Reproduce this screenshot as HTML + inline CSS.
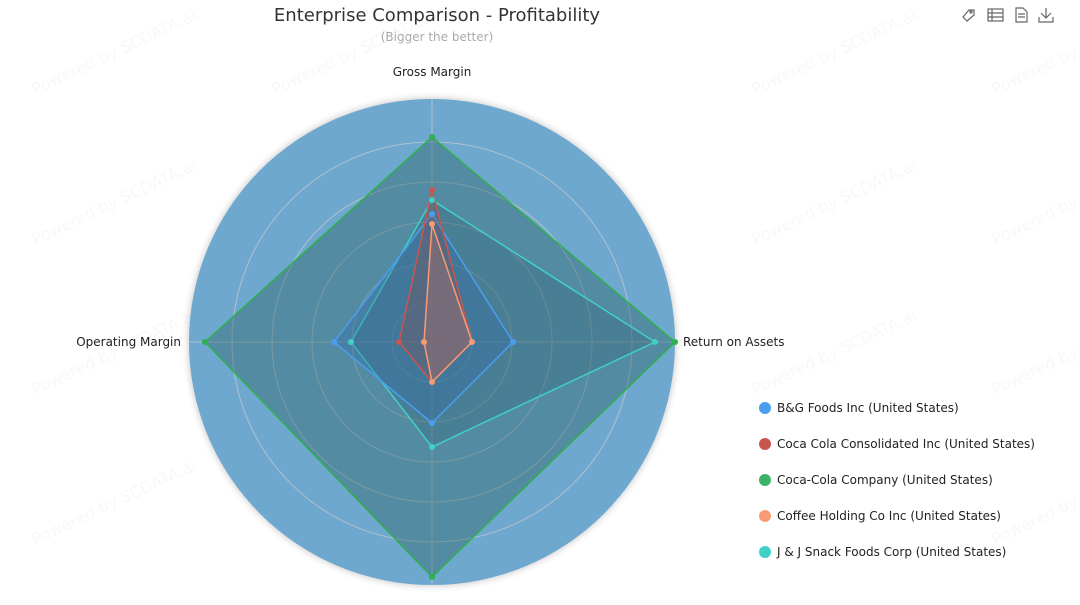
<!DOCTYPE html>
<html><head><meta charset="utf-8"><style>
body{margin:0;width:1080px;height:600px;background:#fff;font-family:"Liberation Sans","DejaVu Sans",sans-serif;overflow:hidden}
</style></head><body>
<svg width="1080" height="600" xmlns="http://www.w3.org/2000/svg" font-family="DejaVu Sans, Liberation Sans, sans-serif">
<defs><filter id="sh" x="-10%" y="-10%" width="120%" height="120%"><feGaussianBlur stdDeviation="4"/></filter></defs>
<g fill="#e6e6e6" opacity="0.3" font-size="16">
<text transform="translate(35,95) rotate(-25)">Powered by SCDATA.ai</text>
<text transform="translate(275,95) rotate(-25)">Powered by SCDATA.ai</text>
<text transform="translate(755,95) rotate(-25)">Powered by SCDATA.ai</text>
<text transform="translate(995,95) rotate(-25)">Powered by SCDATA.ai</text>
<text transform="translate(35,245) rotate(-25)">Powered by SCDATA.ai</text>
<text transform="translate(755,245) rotate(-25)">Powered by SCDATA.ai</text>
<text transform="translate(995,245) rotate(-25)">Powered by SCDATA.ai</text>
<text transform="translate(35,395) rotate(-25)">Powered by SCDATA.ai</text>
<text transform="translate(755,395) rotate(-25)">Powered by SCDATA.ai</text>
<text transform="translate(995,395) rotate(-25)">Powered by SCDATA.ai</text>
<text transform="translate(35,545) rotate(-25)">Powered by SCDATA.ai</text>
<text transform="translate(995,545) rotate(-25)">Powered by SCDATA.ai</text>
</g>
<text x="437" y="21" text-anchor="middle" font-size="18" fill="#333">Enterprise Comparison - Profitability</text>
<text x="437" y="41" text-anchor="middle" font-size="12" fill="#aaa">(Bigger the better)</text>
<g stroke="#666" fill="none" stroke-width="1.2">
<path d="M963 17l6-7h5v5l-7 6z"/><circle cx="971" cy="12" r="1"/>
<rect x="988" y="9" width="15" height="12"/><path d="M988 13h15M988 17h15M992 9v12"/>
<path d="M1016 8h7l4 4v10h-11z M1018 14h7M1018 17h7"/>
<path d="M1046 8v10M1041 13l5 5 5-5M1039 17v5h14v-5"/>
</g>
<circle cx="432" cy="342" r="243" fill="#000" opacity="0.25" filter="url(#sh)"/>
<circle cx="432" cy="342" r="243" fill="#6fa8cf"/>
<g stroke="#ccc" stroke-opacity="0.7" fill="none">
<circle cx="432" cy="342" r="40"/><circle cx="432" cy="342" r="80"/><circle cx="432" cy="342" r="120"/><circle cx="432" cy="342" r="160"/><circle cx="432" cy="342" r="200"/>
<path d="M432 99V585M189 342H675"/>
</g>
<g stroke-width="1.5">
<polygon points="432,137 675,342 432,577 205,342" fill="#2a5f60" fill-opacity="0.4" stroke="#2fb04f"/>
<polygon points="432,200 655,342 432,447 351,342" fill="#2a5a6a" fill-opacity="0.25" stroke="#3fd0c8"/>
<polygon points="432,214 513,342 432,423 334,342" fill="#2a68a8" fill-opacity="0.3" stroke="#4a9ef0"/>
<polygon points="432,190 472,342 432,382 399,342" fill="#8a4a50" fill-opacity="0.3" stroke="#c9554f"/>
<polygon points="432,224 472,342 432,382 424,342" fill="#c07060" fill-opacity="0.3" stroke="#f79b74"/>
</g>
<g>
<g fill="#2fb04f"><circle cx="432" cy="137" r="3"/><circle cx="675" cy="342" r="3"/><circle cx="432" cy="577" r="3"/><circle cx="205" cy="342" r="3"/></g>
<g fill="#3fd0c8"><circle cx="432" cy="200" r="3"/><circle cx="655" cy="342" r="3"/><circle cx="432" cy="447" r="3"/><circle cx="351" cy="342" r="3"/></g>
<g fill="#4a9ef0"><circle cx="432" cy="214" r="3"/><circle cx="513" cy="342" r="3"/><circle cx="432" cy="423" r="3"/><circle cx="334" cy="342" r="3"/></g>
<g fill="#c9554f"><circle cx="432" cy="190" r="3"/><circle cx="399" cy="342" r="3"/></g>
<g fill="#f79b74"><circle cx="432" cy="224" r="3"/><circle cx="472" cy="342" r="3"/><circle cx="432" cy="382" r="3"/><circle cx="424" cy="342" r="3"/></g>
</g>
<g font-size="12" fill="#222">
<text x="432" y="76" text-anchor="middle">Gross Margin</text>
<text x="683" y="346">Return on Assets</text>
<text x="181" y="346" text-anchor="end">Operating Margin</text>
</g>
<g font-size="12" fill="#222">
<circle cx="765" cy="408" r="6" fill="#4a9ef0"/><text x="777" y="412">B&amp;G Foods Inc (United States)</text>
<circle cx="765" cy="444" r="6" fill="#c9554f"/><text x="777" y="448">Coca Cola Consolidated Inc (United States)</text>
<circle cx="765" cy="480" r="6" fill="#3bb36a"/><text x="777" y="484">Coca-Cola Company (United States)</text>
<circle cx="765" cy="516" r="6" fill="#f79b74"/><text x="777" y="520">Coffee Holding Co Inc (United States)</text>
<circle cx="765" cy="552" r="6" fill="#3fd0c8"/><text x="777" y="556">J &amp; J Snack Foods Corp (United States)</text>
</g>
</svg>
</body></html>
